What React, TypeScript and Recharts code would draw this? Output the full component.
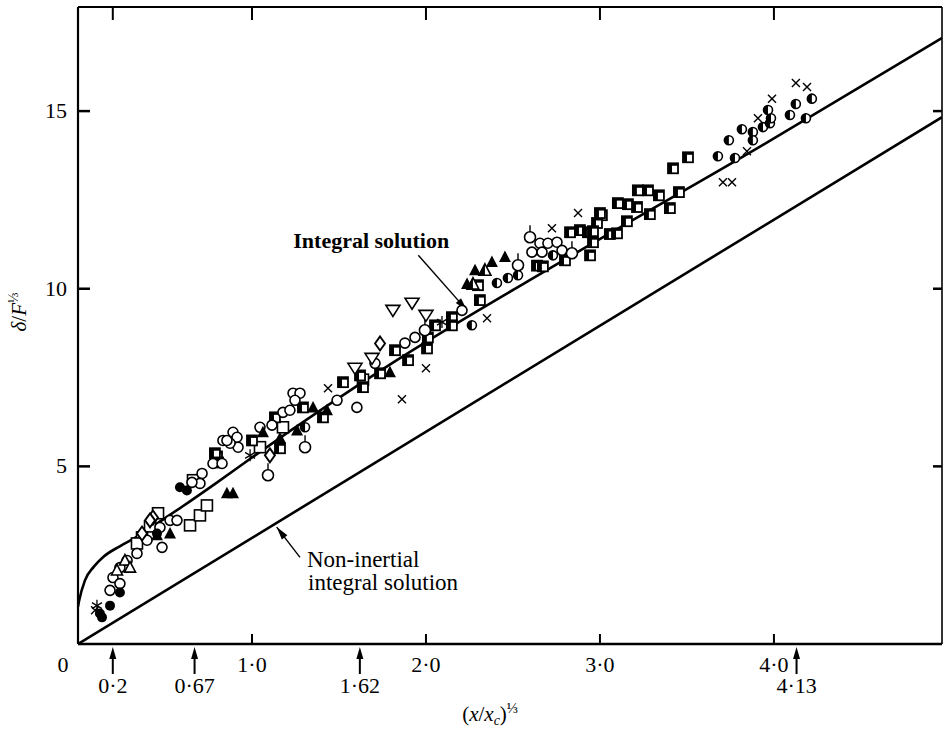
import React from 'react';
import { ComposedChart, XAxis, YAxis, Scatter, Line, ReferenceLine, Label } from 'recharts';

const FONT = '"Liberation Serif", "Times New Roman", serif';
const X_MAX = 4.966;
const Y_MAX = 17.93;

// axis ticks
const xTickValues = [0, 1, 2, 3, 4];
const xTickLabels = ['0', '1·0', '2·0', '3·0', '4·0'];
const markValues = [0.2, 0.67, 1.62, 4.13];
const markLabels = ['0·2', '0·67', '1·62', '4·13'];
const topTickValues = [0.2, 1, 2, 3, 4];
const yTickValues = [5, 10, 15];
const yTickLabels = ['5', '10', '15'];

// theoretical curves
const integralCurve = [
  [0, 1.05], [0.007, 1.23], [0.04, 1.79], [0.09, 2.17], [0.145, 2.45], [0.24, 2.75],
  [0.34, 3.02], [0.45, 3.38], [0.6, 3.87], [0.8, 4.55], [1.0, 5.25], [1.81, 7.92],
  [2.78, 10.77], [3.92, 14.0], [4.966, 17.06],
];
const nonInertialCurve = [[0, 0], [4.966, 14.83]];

// measured points by marker
const openCircles = [
  [2.655, 11.28], [2.701, 11.28], [2.753, 11.31], [2.609, 11.03], [2.667, 11.03], [2.782, 11.08],
  [1.937, 8.63], [1.879, 8.47], [2.207, 9.39], [1.236, 7.06], [1.276, 7.06], [1.247, 6.86],
  [1.178, 6.52], [1.218, 6.58], [1.115, 6.16], [1.046, 6.10], [0.891, 5.96], [0.914, 5.82],
  [0.833, 5.73], [0.920, 5.54], [0.874, 5.65], [1.489, 6.86], [1.603, 6.66], [1.707, 7.90],
  [0.856, 5.73], [0.776, 5.08], [0.828, 5.08], [0.713, 4.80], [0.701, 4.52], [0.655, 4.55],
  [0.529, 3.48], [0.569, 3.48], [0.471, 3.28], [0.483, 2.72], [0.397, 2.92], [0.339, 2.55],
  [0.282, 2.35], [0.241, 2.15], [0.201, 1.87], [0.241, 1.70], [0.184, 1.51],
];
const tailedCircles = [
  [2.529, 10.66], [2.598, 11.45], [2.839, 11.0], [1.994, 8.83], [1.305, 5.54], [1.092, 4.75],
];
const halfCircles = [
  [3.678, 13.73], [3.741, 14.18], [3.776, 13.68], [3.816, 14.49], [3.879, 14.41], [3.879, 14.18],
  [3.937, 14.55], [3.977, 14.66], [3.983, 14.80], [3.966, 15.03], [4.092, 14.89], [4.126, 15.20],
  [4.184, 14.80], [4.218, 15.35], [2.408, 10.16], [2.471, 10.30], [2.529, 10.38], [2.730, 10.94],
  [2.264, 8.97], [1.305, 6.10],
];
const filledCircles = [
  [0.241, 1.45], [0.184, 1.08], [0.138, 0.75], [0.126, 0.86], [0.586, 4.41], [0.626, 4.32], [0.454, 3.11],
];
const halfSquares = [
  [3.506, 13.70], [3.420, 13.39], [3.218, 12.77], [3.276, 12.77], [3.339, 12.63], [3.454, 12.72],
  [3.402, 12.27], [3.103, 12.41], [3.161, 12.38], [3.213, 12.30], [3.287, 12.10], [3.155, 11.90],
  [3.011, 12.07], [2.983, 11.85], [2.828, 11.59], [2.885, 11.65], [2.931, 11.59], [2.960, 11.62],
  [3.057, 11.54], [3.098, 11.56], [2.960, 11.31], [2.943, 10.94], [2.799, 10.80], [3.0, 12.13],
  [2.638, 10.65], [2.672, 10.63], [2.310, 9.68], [2.299, 10.10], [2.149, 9.20], [2.149, 8.97],
  [2.052, 8.97], [2.011, 8.63], [2.006, 8.32], [1.822, 8.27], [1.897, 7.99], [1.736, 7.62],
  [1.523, 7.37], [1.638, 7.23], [1.621, 7.56], [1.408, 6.38], [1.293, 6.66], [1.132, 6.38],
  [1.161, 5.51], [1.0, 5.73], [0.799, 5.28], [0.787, 5.37], [0.805, 5.11],
];
const openSquares = [
  [1.638, 7.44], [1.046, 5.54], [1.178, 6.10], [0.661, 4.61], [0.644, 3.34], [0.701, 3.62],
  [0.741, 3.90], [0.460, 3.68], [0.414, 3.31], [0.368, 3.0], [0.339, 2.83],
];
const filledTriangles = [
  [2.282, 10.52], [2.379, 10.75], [2.454, 10.89], [2.236, 10.13], [1.793, 7.65], [1.351, 6.66],
  [1.431, 6.58], [1.259, 6.01], [1.161, 5.79], [1.063, 5.96], [0.856, 4.24], [0.891, 4.24],
  [0.529, 3.11], [0.454, 3.06],
];
const halfTriangles = [[2.339, 10.52], [2.270, 10.13]];
const openTriangles = [[0.270, 2.35], [0.224, 2.07], [0.299, 2.15]];
const invTriangles = [[1.810, 9.39], [1.920, 9.59], [2.0, 9.25], [1.592, 7.76], [1.690, 8.04]];
const diamonds = [[1.736, 8.46], [1.103, 5.31], [0.431, 3.56], [0.414, 3.48], [0.368, 3.11]];
const crosses = [
  [3.845, 13.87], [3.908, 14.80], [3.989, 15.35], [4.126, 15.79], [4.190, 15.68], [3.707, 13.0],
  [3.759, 13.0], [2.874, 12.13], [2.351, 9.17], [2.724, 11.70], [2.0, 7.76], [1.862, 6.89],
  [1.437, 7.20], [0.098, 0.95],
];
const asterisks = [[2.092, 9.06], [0.989, 5.31], [0.109, 1.08]];

// annotation arrows (data coordinates)
const integralArrow = [[1.956, 10.94], [2.236, 9.39]];
const nonInertialArrow = [[1.276, 2.437], [1.142, 3.29]];

const pts = (a: number[][]) => a.map(([x, y]) => ({ x, y }));

const K = '#000';
const SW = 1.6;

const OpenCircle = (p: any) => <circle cx={p.cx} cy={p.cy} r={5} fill="#fff" stroke={K} strokeWidth={SW} />;
const TailedCircle = (p: any) => (
  <g>
    <line x1={p.cx} y1={p.cy - 5} x2={p.cx} y2={p.cy - 12} stroke={K} strokeWidth={1.4} />
    <circle cx={p.cx} cy={p.cy} r={5.5} fill="#fff" stroke={K} strokeWidth={SW} />
  </g>
);
const HalfCircle = (p: any) => {
  const { cx, cy } = p;
  const r = 4.5;
  return (
    <g>
      <circle cx={cx} cy={cy} r={r} fill="#fff" stroke={K} strokeWidth={SW} />
      <path d={`M${cx},${cy - r} A${r},${r} 0 0 0 ${cx},${cy + r} Z`} fill={K} />
    </g>
  );
};
const FilledCircle = (p: any) => <circle cx={p.cx} cy={p.cy} r={5} fill={K} />;
const HalfSquare = (p: any) => {
  const { cx, cy } = p;
  return (
    <g>
      <rect x={cx - 5} y={cy - 5} width={10} height={10} fill="#fff" stroke={K} strokeWidth={1.8} />
      <rect x={cx - 5} y={cy - 5} width={4} height={10} fill={K} />
      <rect x={cx - 5} y={cy - 5} width={10} height={2.5} fill={K} />
    </g>
  );
};
const OpenSquare = (p: any) => (
  <rect x={p.cx - 5.5} y={p.cy - 5.5} width={11} height={11} fill="#fff" stroke={K} strokeWidth={SW} />
);
const FilledTriangle = (p: any) => {
  const { cx, cy } = p;
  return <path d={`M${cx},${cy - 6.5} L${cx + 6},${cy + 5} L${cx - 6},${cy + 5} Z`} fill={K} />;
};
const HalfTriangle = (p: any) => {
  const { cx, cy } = p;
  return (
    <g>
      <path d={`M${cx},${cy - 6.5} L${cx + 6},${cy + 5} L${cx - 6},${cy + 5} Z`} fill="#fff" stroke={K} strokeWidth={SW} />
      <path d={`M${cx},${cy - 6.5} L${cx},${cy + 5} L${cx - 6},${cy + 5} Z`} fill={K} />
    </g>
  );
};
const OpenTriangle = (p: any) => {
  const { cx, cy } = p;
  return <path d={`M${cx},${cy - 6} L${cx + 5.5},${cy + 4.5} L${cx - 5.5},${cy + 4.5} Z`} fill="#fff" stroke={K} strokeWidth={SW} />;
};
const InvTriangle = (p: any) => {
  const { cx, cy } = p;
  return <path d={`M${cx - 7},${cy - 5} L${cx + 7},${cy - 5} L${cx},${cy + 6} Z`} fill="#fff" stroke={K} strokeWidth={SW} />;
};
const Diamond = (p: any) => {
  const { cx, cy } = p;
  return <path d={`M${cx},${cy - 7} L${cx + 5},${cy} L${cx},${cy + 7} L${cx - 5},${cy} Z`} fill="#fff" stroke={K} strokeWidth={1.9} />;
};
const Cross = (p: any) => {
  const { cx, cy } = p;
  const s = 4;
  return (
    <g stroke={K} strokeWidth={1.4}>
      <line x1={cx - s} y1={cy - s} x2={cx + s} y2={cy + s} />
      <line x1={cx - s} y1={cy + s} x2={cx + s} y2={cy - s} />
    </g>
  );
};
const Asterisk = (p: any) => {
  const { cx, cy } = p;
  return (
    <g stroke={K} strokeWidth={1.3}>
      <line x1={cx} y1={cy - 6} x2={cx} y2={cy + 6} />
      <line x1={cx - 5} y1={cy - 3} x2={cx + 5} y2={cy + 3} />
      <line x1={cx - 5} y1={cy + 3} x2={cx + 5} y2={cy - 3} />
    </g>
  );
};

const arrowHead = (x1: number, y1: number, x2: number, y2: number) => {
  const dx = x2 - x1, dy = y2 - y1;
  const len = Math.sqrt(dx * dx + dy * dy) || 1;
  const ux = dx / len, uy = dy / len;
  const nx = -uy, ny = ux;
  const L = 13, Wd = 3.5;
  const bx = x2 - ux * L, by = y2 - uy * L;
  return `M${x2},${y2} L${bx + nx * Wd},${by + ny * Wd} L${bx - nx * Wd},${by - ny * Wd} Z`;
};

const IntegralArrow = (p: any) => {
  const { x1, y1, x2, y2 } = p;
  return (
    <g>
      <line x1={x1} y1={y1} x2={x2} y2={y2} stroke={K} strokeWidth={1.4} />
      <path d={arrowHead(x1, y1, x2, y2)} fill={K} />
      <text x={x1 - 125} y={y1 - 7} fontFamily={FONT} fontSize={22} fontWeight="bold" fill={K}>
        Integral solution
      </text>
    </g>
  );
};
const NonInertialArrow = (p: any) => {
  const { x1, y1, x2, y2 } = p;
  return (
    <g>
      <line x1={x1} y1={y1} x2={x2} y2={y2} stroke={K} strokeWidth={1.4} />
      <path d={arrowHead(x1, y1, x2, y2)} fill={K} />
      <text x={x1 + 7} y={y1 + 10} fontFamily={FONT} fontSize={23} fill={K}>Non-inertial</text>
      <text x={x1 + 8} y={y1 + 33} fontFamily={FONT} fontSize={23} fill={K}>integral solution</text>
    </g>
  );
};

// frame pieces drawn through ReferenceLine shapes
const TopBorder = (p: any) => (
  <line x1={p.x1} y1={p.y1} x2={p.x2} y2={p.y2} stroke={K} strokeWidth={2} />
);
const RightBorder = (p: any) => (
  <line x1={p.x1} y1={p.y1} x2={p.x2} y2={p.y2} stroke={K} strokeWidth={1.6} />
);
const TopTickMark = (p: any) => {
  const top = Math.min(p.y1, p.y2);
  return <line x1={p.x1} y1={top} x2={p.x1} y2={top + 13} stroke={K} strokeWidth={2} />;
};
const RightTickMark = (p: any) => {
  const right = Math.max(p.x1, p.x2);
  return <line x1={right} y1={p.y1} x2={right - 9} y2={p.y1} stroke={K} strokeWidth={2.5} />;
};

const BottomTick = (props: any) => {
  const { x, y, payload } = props;
  const v = payload.value;
  const mi = markValues.indexOf(v);
  if (mi >= 0) {
    return (
      <g>
        <line x1={x} y1={y + 10} x2={x} y2={y + 30} stroke={K} strokeWidth={2} />
        <path d={`M${x},${y + 3} L${x + 3.5},${y + 15} L${x - 3.5},${y + 15} Z`} fill={K} />
        <text x={x} y={y + 49} textAnchor="middle" fontFamily={FONT} fontSize={22} fill={K}>
          {markLabels[mi]}
        </text>
      </g>
    );
  }
  const ti = xTickValues.indexOf(v);
  if (ti < 0) return <g />;
  if (v === 0) {
    return (
      <text x={x - 15} y={y + 28} textAnchor="middle" fontFamily={FONT} fontSize={22} fill={K}>
        {xTickLabels[ti]}
      </text>
    );
  }
  return (
    <g>
      <line x1={x} y1={y} x2={x} y2={y - 10} stroke={K} strokeWidth={2} />
      <text x={x} y={y + 28} textAnchor="middle" fontFamily={FONT} fontSize={22} fill={K}>
        {xTickLabels[ti]}
      </text>
    </g>
  );
};

const LeftTick = (props: any) => {
  const { x, y, payload } = props;
  const i = yTickValues.indexOf(payload.value);
  return (
    <g>
      <line x1={x} y1={y} x2={x + 12} y2={y} stroke={K} strokeWidth={2.5} />
      <text x={x - 11} y={y + 7} textAnchor="end" fontFamily={FONT} fontSize={22} fill={K}>
        {i >= 0 ? yTickLabels[i] : ''}
      </text>
    </g>
  );
};

const XTitle = (props: any) => {
  const vb = props.viewBox || { x: 78, y: 644, width: 864, height: 87 };
  const cx = vb.x + vb.width * 0.477;
  const cy = vb.y + 77;
  return (
    <text x={cx} y={cy} textAnchor="middle" fontFamily={FONT} fontSize={21} fill={K}>
      <tspan>(</tspan>
      <tspan fontStyle="italic">x</tspan>
      <tspan>/</tspan>
      <tspan fontStyle="italic">x</tspan>
      <tspan fontStyle="italic" fontSize={14} dy={4}>c</tspan>
      <tspan dy={-4}>)</tspan>
      <tspan fontSize={15} dy={-8}>⅓</tspan>
    </text>
  );
};

const YTitle = (props: any) => {
  const vb = props.viewBox || { x: 0, y: 7, width: 78, height: 637 };
  const x = vb.x + 26;
  const y = vb.y + 305;
  return (
    <text x={x} y={y} textAnchor="middle" transform={`rotate(-90 ${x} ${y})`} fontFamily={FONT} fontSize={21} fill={K}>
      <tspan fontStyle="italic">δ</tspan>
      <tspan>/</tspan>
      <tspan fontStyle="italic">F</tspan>
      <tspan fontSize={14} dy={-8}>⅓</tspan>
    </text>
  );
};

const series: [number[][], (p: any) => React.ReactElement][] = [
  [openSquares, OpenSquare],
  [halfSquares, HalfSquare],
  [openCircles, OpenCircle],
  [tailedCircles, TailedCircle],
  [halfCircles, HalfCircle],
  [filledCircles, FilledCircle],
  [filledTriangles, FilledTriangle],
  [halfTriangles, HalfTriangle],
  [openTriangles, OpenTriangle],
  [invTriangles, InvTriangle],
  [diamonds, Diamond],
  [crosses, Cross],
  [asterisks, Asterisk],
];

export default function App() {
  return (
    <div style={{ position: 'absolute', left: 0, top: 0, width: 946, height: 731, background: '#fff' }}>
      <ComposedChart width={946} height={731} margin={{ top: 7, right: 4, bottom: 0, left: 0 }}>
        <XAxis
          xAxisId="b"
          dataKey="x"
          type="number"
          domain={[0, X_MAX]}
          allowDataOverflow
          ticks={[...xTickValues, ...markValues].sort((a, b) => a - b)}
          interval={0}
          tick={BottomTick}
          tickLine={false}
          tickSize={0}
          tickMargin={0}
          height={87}
          axisLine={{ stroke: K, strokeWidth: 2.5 }}
        >
          <Label content={XTitle} />
        </XAxis>
        <YAxis
          yAxisId="l"
          dataKey="y"
          type="number"
          domain={[0, Y_MAX]}
          allowDataOverflow
          ticks={yTickValues}
          interval={0}
          tick={LeftTick}
          tickLine={false}
          tickSize={0}
          tickMargin={0}
          width={78}
          axisLine={{ stroke: K, strokeWidth: 2.2 }}
        >
          <Label content={YTitle} />
        </YAxis>
        <ReferenceLine xAxisId="b" yAxisId="l" y={Y_MAX} ifOverflow="visible" shape={TopBorder} />
        <ReferenceLine xAxisId="b" yAxisId="l" x={X_MAX} ifOverflow="visible" shape={RightBorder} />
        {topTickValues.map((v) => (
          <ReferenceLine key={`t${v}`} xAxisId="b" yAxisId="l" x={v} ifOverflow="visible" shape={TopTickMark} />
        ))}
        {yTickValues.map((v) => (
          <ReferenceLine key={`r${v}`} xAxisId="b" yAxisId="l" y={v} ifOverflow="visible" shape={RightTickMark} />
        ))}
        <Line
          xAxisId="b"
          yAxisId="l"
          data={pts(integralCurve)}
          dataKey="y"
          type="monotone"
          dot={false}
          activeDot={false}
          stroke={K}
          strokeWidth={2.6}
          isAnimationActive={false}
        />
        <Line
          xAxisId="b"
          yAxisId="l"
          data={pts(nonInertialCurve)}
          dataKey="y"
          type="linear"
          dot={false}
          activeDot={false}
          stroke={K}
          strokeWidth={2.6}
          isAnimationActive={false}
        />
        {series.map(([d, shape], i) => (
          <Scatter
            key={i}
            xAxisId="b"
            yAxisId="l"
            data={pts(d)}
            dataKey="y"
            shape={shape}
            isAnimationActive={false}
          />
        ))}
        <ReferenceLine
          xAxisId="b"
          yAxisId="l"
          segment={pts(integralArrow)}
          ifOverflow="visible"
          shape={IntegralArrow}
        />
        <ReferenceLine
          xAxisId="b"
          yAxisId="l"
          segment={pts(nonInertialArrow)}
          ifOverflow="visible"
          shape={NonInertialArrow}
        />
      </ComposedChart>
    </div>
  );
}
